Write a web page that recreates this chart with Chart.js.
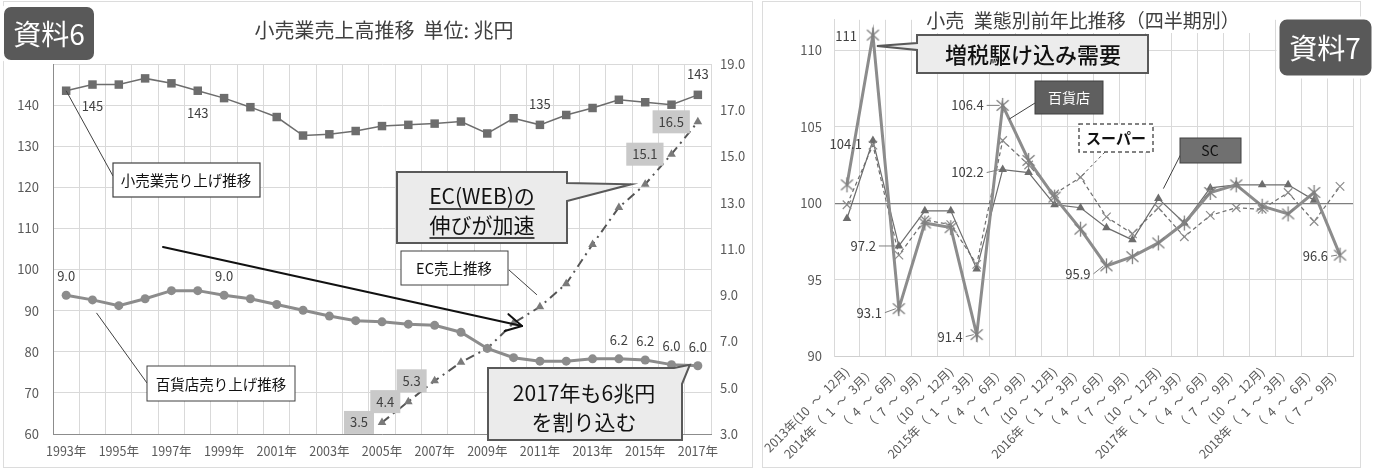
<!DOCTYPE html>
<html>
<head>
<meta charset="utf-8">
<script src="https://cdn.jsdelivr.net/npm/chart.js@4.4.1/dist/chart.umd.min.js"></script>
<style>
html, body { margin: 0; padding: 0; background: #fff; }
#wrap { position: relative; width: 1376px; height: 470px; overflow: hidden; }
#c1 { position: absolute; left: 0; top: 0; }
#c2 { position: absolute; left: 757px; top: 0; }
</style>
</head>
<body>
<div id="wrap">
  <canvas id="c1" width="757" height="470"></canvas>
  <canvas id="c2" width="619" height="470"></canvas>
</div>
<script>
// ---- 資料6 data (兆円) ----
const years = ['1993年','1994年','1995年','1996年','1997年','1998年','1999年','2000年','2001年','2002年',
  '2003年','2004年','2005年','2006年','2007年','2008年','2009年','2010年','2011年','2012年',
  '2013年','2014年','2015年','2016年','2017年'];
const retailSales = [143.5, 145.0, 145.0, 146.5, 145.3, 143.5, 141.7, 139.5, 137.1, 132.6,
  132.9, 133.7, 134.9, 135.2, 135.5, 136.0, 133.1, 136.8, 135.2, 137.6,
  139.3, 141.3, 140.7, 140.1, 142.5];
const deptSales = [9.0, 8.8, 8.55, 8.85, 9.2, 9.2, 9.0, 8.85, 8.6, 8.35,
  8.1, 7.9, 7.85, 7.75, 7.7, 7.4, 6.7, 6.3, 6.15, 6.15,
  6.25, 6.25, 6.2, 6.0, 5.95];
const ecSales = [null, null, null, null, null, null, null, null, null, null,
  null, null, 3.5, 4.4, 5.3, 6.1, 6.7, 7.8, 8.5, 9.5,
  11.2, 12.8, 13.8, 15.1, 16.5];
const retailLabelIdx = [1, 5, 18, 24];
const retailLabelText = ['145', '143', '135', '143'];
const deptLabelIdx = [0, 6, 21, 22, 23, 24];
const deptLabelText = ['9.0', '9.0', '6.2', '6.2', '6.0', '6.0'];
const ecLabelIdx = [12, 13, 14, 23, 24];
const ecLabelText = ['3.5', '4.4', '5.3', '15.1', '16.5'];

// ---- 資料7 data (前年比 %) ----
const quarters = ['2013年(10\u2002～\u200212月)','2014年（\u20021\u2002～\u20023月）','（\u20024\u2002～\u20026月）','（\u20027\u2002～\u20029月）','(10\u2002～\u200212月)',
  '2015年（\u20021\u2002～\u20023月）','（\u20024\u2002～\u20026月）','（\u20027\u2002～\u20029月）','(10\u2002～\u200212月)',
  '2016年（\u20021\u2002～\u20023月）','（\u20024\u2002～\u20026月）','（\u20027\u2002～\u20029月）','(10\u2002～\u200212月)',
  '2017年（\u20021\u2002～\u20023月）','（\u20024\u2002～\u20026月）','（\u20027\u2002～\u20029月）','(10\u2002～\u200212月)',
  '2018年（\u20021\u2002～\u20023月）','（\u20024\u2002～\u20026月）','（\u20027\u2002～\u20029月）'];
const deptYoY = [101.2, 111.0, 93.1, 98.7, 98.4, 91.4, 106.4, 102.8, 100.4, 98.3,
  95.9, 96.5, 97.4, 98.7, 100.7, 101.2, 99.8, 99.3, 100.7, 96.6];
const superYoY = [99.9, 103.8, 96.6, 98.9, 98.6, 96.0, 104.1, 102.5, 100.6, 101.7,
  99.1, 98.0, 99.7, 97.8, 99.2, 99.7, 99.6, 100.7, 98.8, 101.1];
const scYoY = [99.0, 104.1, 97.2, 99.5, 99.5, 95.7, 102.2, 102.0, 99.9, 99.7,
  98.4, 97.6, 100.3, 98.7, 101.0, 101.2, 101.2, 101.2, 100.2, null];
const deptYoYLabelIdx = [1, 2, 5, 6, 10, 19];
const deptYoYLabelText = ['111', '93.1', '91.4', '106.4', '95.9', '96.6'];
const scLabelIdx = [1, 2, 6];
const scLabelText = ['104.1', '97.2', '102.2'];

const FONT = '"Noto Sans CJK JP", "Noto Sans", sans-serif';
Chart.defaults.font.family = FONT;
Chart.defaults.color = '#595959';

// helpers
function font(size, weight) { return (weight || '') + ' ' + size + 'px ' + FONT; }
function text(ctx, s, x, y, size, color, align, weight) {
  ctx.font = font(size, weight);
  ctx.fillStyle = color;
  ctx.textAlign = align || 'center';
  ctx.textBaseline = 'middle';
  ctx.fillText(s, x, y);
}
function rbox(ctx, x, y, w, h, r, fill, stroke, lw) {
  ctx.beginPath();
  ctx.roundRect(x, y, w, h, r);
  if (fill) { ctx.fillStyle = fill; ctx.fill(); }
  if (stroke) { ctx.strokeStyle = stroke; ctx.lineWidth = lw || 1; ctx.stroke(); }
}
function line(ctx, x1, y1, x2, y2, color, lw, dash) {
  ctx.beginPath();
  ctx.setLineDash(dash || []);
  ctx.moveTo(x1, y1); ctx.lineTo(x2, y2);
  ctx.strokeStyle = color; ctx.lineWidth = lw || 1;
  ctx.stroke();
  ctx.setLineDash([]);
}
function pt(chart, ds, i) { return chart.getDatasetMeta(ds).data[i]; }

// callout with a tail on the right side
function calloutRight(ctx, x, y, w, h, t1, t2, tip) {
  ctx.beginPath();
  ctx.moveTo(x, y); ctx.lineTo(x + w, y); ctx.lineTo(x + w, t1);
  ctx.lineTo(tip.x, tip.y); ctx.lineTo(x + w, t2);
  ctx.lineTo(x + w, y + h); ctx.lineTo(x, y + h); ctx.closePath();
  ctx.fillStyle = '#ebebeb'; ctx.fill();
  ctx.strokeStyle = '#595959'; ctx.lineWidth = 2; ctx.stroke();
}

const leftOverlay = {
  id: 'leftOverlay',
  afterDraw(chart) {
    const ctx = chart.ctx;
    ctx.save();
    ctx.strokeStyle = '#dcdcdc'; ctx.lineWidth = 1;
    ctx.strokeRect(3.5, 1.5, 749, 466);

    text(ctx, '小売業売上高推移  単位: 兆円', 384, 30, 20, '#404040');
    rbox(ctx, 2, 5, 94, 57, 9, '#595959', '#ffffff', 4);
    text(ctx, '資料6', 49, 34, 28, '#ffffff');

    // value labels
    retailLabelIdx.forEach((i, k) => {
      const p = pt(chart, 0, i);
      text(ctx, retailLabelText[k], p.x, p.y + (i < 10 ? 22 : -21), 13, '#404040');
    });
    deptLabelIdx.forEach((i, k) => {
      const p = pt(chart, 1, i);
      text(ctx, deptLabelText[k], p.x, p.y - 19, 13, '#404040');
    });
    ecLabelIdx.forEach((i, k) => {
      const p = pt(chart, 2, i);
      ctx.font = font(13);
      const w = ctx.measureText(ecLabelText[k]).width + 12;
      ctx.fillStyle = '#c9c9c9';
      ctx.fillRect(p.x - 8 - w, p.y - 11.5, w, 23);
      text(ctx, ecLabelText[k], p.x - 8 - w / 2, p.y, 13, '#404040');
    });

    // series name boxes
    const r0 = pt(chart, 0, 0);
    line(ctx, r0.x, r0.y, 113, 176, '#404040', 1);
    ctx.fillStyle = '#fff'; ctx.fillRect(113, 163, 147, 34);
    ctx.strokeStyle = '#404040'; ctx.lineWidth = 1.2; ctx.strokeRect(113, 163, 147, 34);
    text(ctx, '小売業売り上げ推移', 186, 180, 14.5, '#111');

    const d1 = pt(chart, 1, 1);
    line(ctx, d1.x + 4, d1.y + 13, 147, 383, '#404040', 1);
    ctx.fillStyle = '#fff'; ctx.fillRect(147, 366, 148, 35);
    ctx.strokeRect(147, 366, 148, 35);
    text(ctx, '百貨店売り上げ推移', 221, 384, 14.5, '#111');

    const e18 = pt(chart, 2, 18);
    line(ctx, 509, 270, e18.x - 3, e18.y - 12, '#404040', 1);
    ctx.fillStyle = '#fff'; ctx.fillRect(401, 251, 107, 34);
    ctx.strokeRect(401, 251, 107, 34);
    text(ctx, 'EC売上推移', 454, 268, 14.5, '#111');

    // trend arrow
    ctx.lineCap = 'round';
    line(ctx, 163, 247, 522, 326, '#111', 2);
    const ang = Math.atan2(326 - 247, 522 - 163);
    [0.5, -0.5].forEach(a => {
      line(ctx, 522, 326, 522 - 18 * Math.cos(ang + a), 326 - 18 * Math.sin(ang + a), '#111', 2);
    });
    ctx.lineCap = 'butt';

    // EC callout
    const e22 = pt(chart, 2, 22);
    calloutRight(ctx, 397, 172, 170, 71, 183, 201, { x: e22.x - 14, y: e22.y });
    ['EC(WEB)の', '伸びが加速'].forEach((s, k) => {
      const y = 196 + k * 29;
      text(ctx, s, 482, y, 21, '#111');
      const w = ctx.measureText(s).width;
      line(ctx, 482 - w / 2, y + 13, 482 + w / 2, y + 13, '#111', 1.5);
    });

    // 2017 callout
    const d24 = pt(chart, 1, 24);
    ctx.beginPath();
    ctx.moveTo(488, 368); ctx.lineTo(674, 368);
    ctx.lineTo(d24.x - 8, d24.y - 1); ctx.lineTo(682, 384);
    ctx.lineTo(682, 440); ctx.lineTo(488, 440); ctx.closePath();
    ctx.fillStyle = '#ebebeb'; ctx.fill();
    ctx.strokeStyle = '#595959'; ctx.lineWidth = 2; ctx.stroke();
    text(ctx, '2017年も6兆円', 584, 393, 21, '#111');
    text(ctx, 'を割り込む', 584, 422, 21, '#111');
    ctx.restore();
  }
};

new Chart(document.getElementById('c1'), {
  type: 'line',
  data: {
    labels: years,
    datasets: [
      { label: '小売業', data: retailSales, yAxisID: 'y', borderColor: '#6d6d6d', borderWidth: 1.5,
        pointStyle: 'rect', pointRadius: 6, pointBackgroundColor: '#6d6d6d', pointBorderWidth: 0 },
      { label: '百貨店', data: deptSales, yAxisID: 'y1', borderColor: '#8c8c8c', borderWidth: 3,
        pointStyle: 'circle', pointRadius: 4.5, pointBackgroundColor: '#8c8c8c', pointBorderWidth: 0 },
      { label: 'EC', data: ecSales, yAxisID: 'y1', borderColor: '#555555', borderWidth: 2,
        borderDash: [9, 5, 2, 5], pointStyle: 'triangle', pointRadius: 5,
        pointBackgroundColor: '#7a7a7a', pointBorderColor: '#7a7a7a', pointBorderWidth: 0 }
    ]
  },
  options: {
    responsive: false,
    animation: false,
    layout: { padding: { top: 64, left: 0, right: 0, bottom: 0 } },
    plugins: { legend: { display: false }, tooltip: { enabled: false } },
    scales: {
      x: {
        offset: true,
        grid: { offset: true, color: '#d9d9d9', drawTicks: false },
        border: { color: '#8c8c8c' },
        ticks: { autoSkip: false, maxRotation: 0, padding: 10, font: { size: 12.5 },
          callback: (v, i) => (i % 2 === 0 ? years[i] : '') },
        afterFit: s => { s.height = 36; }
      },
      y: {
        position: 'left', min: 60, max: 150,
        ticks: { stepSize: 10, padding: 14, font: { size: 13 }, callback: v => (v === 150 ? '' : v) },
        grid: { color: '#d9d9d9', drawTicks: false },
        border: { color: '#8c8c8c' },
        afterFit: s => { s.width = 53; }
      },
      y1: {
        position: 'right', min: 3, max: 19,
        ticks: { stepSize: 2, padding: 9, font: { size: 13 }, callback: v => v.toFixed(1) },
        grid: { drawOnChartArea: false, drawTicks: false },
        border: { display: false },
        afterFit: s => { s.width = 46; }
      }
    }
  },
  plugins: [leftOverlay]
});

// asterisk marker for 百貨店
function makeStar(size, color) {
  const c = document.createElement('canvas');
  c.width = c.height = size;
  const g = c.getContext('2d');
  const m = size / 2, r = size / 2 - 1;
  g.strokeStyle = color; g.lineWidth = 1.3;
  g.beginPath();
  g.moveTo(m, m - r); g.lineTo(m, m + r);
  g.moveTo(m - r * 0.8, m - r * 0.7); g.lineTo(m + r * 0.8, m + r * 0.7);
  g.moveTo(m + r * 0.8, m - r * 0.7); g.lineTo(m - r * 0.8, m + r * 0.7);
  g.stroke();
  return c;
}
const starImg = makeStar(17, '#7f7f7f');

const rightOverlay = {
  id: 'rightOverlay',
  afterDraw(chart) {
    const ctx = chart.ctx;
    ctx.save();
    ctx.strokeStyle = '#dcdcdc'; ctx.lineWidth = 1;
    ctx.strokeRect(5.5, 1.5, 598, 466);

    ctx.fillStyle = '#fff'; ctx.fillRect(158, 9, 336, 24);
    text(ctx, '小売\u2002業態別前年比推移（四半期別）', 326, 21, 19, '#404040');
    rbox(ctx, 521, 18, 95, 59, 9, '#595959', '#ffffff', 3);
    text(ctx, '資料7', 568, 48, 28, '#ffffff');

    // 増税駆け込み需要
    const p1 = pt(chart, 0, 1);
    ctx.beginPath();
    ctx.moveTo(160, 35); ctx.lineTo(391, 35); ctx.lineTo(391, 73); ctx.lineTo(160, 73);
    ctx.lineTo(160, 50); ctx.lineTo(p1.x + 4, p1.y + 11); ctx.lineTo(160, 43); ctx.closePath();
    ctx.fillStyle = '#ececec'; ctx.fill();
    ctx.strokeStyle = '#595959'; ctx.lineWidth = 2; ctx.stroke();
    text(ctx, '増税駆け込み需要', 276, 55, 22, '#111', 'center', '500');

    // 百貨店
    const a6 = pt(chart, 0, 6), a7 = pt(chart, 0, 7);
    line(ctx, 278, 103, a6.x + (a7.x - a6.x) * 0.25, a6.y + (a7.y - a6.y) * 0.25, '#404040', 1);
    ctx.fillStyle = '#5f5f5f'; ctx.fillRect(278, 81, 68, 33);
    ctx.strokeStyle = '#404040'; ctx.lineWidth = 1; ctx.strokeRect(278, 81, 68, 33);
    text(ctx, '百貨店', 312, 98, 14, '#ffffff');

    // スーパー
    const s9 = pt(chart, 1, 9);
    line(ctx, 348, 152, s9.x, s9.y, '#595959', 1, [3, 3]);
    ctx.fillStyle = '#fff'; ctx.fillRect(322, 124, 74, 28);
    ctx.setLineDash([4, 3]); ctx.strokeStyle = '#595959'; ctx.lineWidth = 1.5;
    ctx.strokeRect(322, 124, 74, 28); ctx.setLineDash([]);
    text(ctx, 'スーパー', 359, 138, 15, '#111', 'center', 'bold');

    // SC
    const c12 = pt(chart, 2, 12);
    line(ctx, 426, 150, c12.x + 5, c12.y - 10, '#404040', 1);
    ctx.fillStyle = '#707070'; ctx.fillRect(423, 138, 61, 25);
    ctx.strokeStyle = '#404040'; ctx.lineWidth = 1; ctx.strokeRect(423, 138, 61, 25);
    text(ctx, 'SC', 453, 151, 14, '#111');

    // value labels with short leader lines
    const offs = {
      0: { 1: [-15, 1, 0], 2: [-16, 4, 1], 5: [-13, 2, 1], 6: [-18, 0, 1], 10: [-15, 8, 1], 19: [-11, 1, 1] },
      2: { 1: [-10, 4, 0], 2: [-22, 0, 1], 6: [-18, 3, 1] }
    };
    const draw = (ds, idxs, txts) => idxs.forEach((i, k) => {
      const p = pt(chart, ds, i);
      const o = offs[ds][i];
      const tx = p.x + o[0], ty = p.y + o[1];
      if (o[2]) line(ctx, tx + 2, ty, p.x - 3, p.y, '#7f7f7f', 1);
      text(ctx, txts[k], tx - 1, ty, 13, '#404040', 'right');
    });
    draw(0, deptYoYLabelIdx, deptYoYLabelText);
    draw(2, scLabelIdx, scLabelText);
    ctx.restore();
  }
};

new Chart(document.getElementById('c2'), {
  type: 'line',
  data: {
    labels: quarters,
    datasets: [
      { label: '百貨店', data: deptYoY, borderColor: '#8c8c8c', borderWidth: 3,
        pointStyle: starImg, pointRadius: 8 },
      { label: 'スーパー', data: superYoY, borderColor: '#6d6d6d', borderWidth: 1.2, borderDash: [4, 3],
        pointStyle: 'crossRot', pointRadius: 6, pointBorderColor: '#8c8c8c', pointBorderWidth: 1.2 },
      { label: 'SC', data: scYoY, borderColor: '#6d6d6d', borderWidth: 1.2,
        pointStyle: 'triangle', pointRadius: 5, pointBackgroundColor: '#6d6d6d', pointBorderColor: '#6d6d6d', pointBorderWidth: 0 }
    ]
  },
  options: {
    responsive: false,
    animation: false,
    layout: { padding: { top: 10, left: 0, right: 23, bottom: 0 } },
    plugins: { legend: { display: false }, tooltip: { enabled: false } },
    scales: {
      x: {
        offset: true,
        grid: { offset: true, color: '#d9d9d9', drawTicks: false },
        border: { color: '#cfcfcf' },
        ticks: { autoSkip: false, minRotation: 45, maxRotation: 45, padding: 8, font: { size: 12.5 } },
        afterFit: s => { s.height = 114; s.paddingLeft = 0; s.paddingRight = 0; }
      },
      y: {
        min: 90, max: 112,
        ticks: { stepSize: 5, padding: 12, font: { size: 13 }, callback: v => (v % 5 === 0 ? v : '') },
        grid: {
          drawTicks: false,
          color: c => (c.tick && c.tick.value === 100 ? '#7f7f7f' : (c.tick && c.tick.value === 112 ? 'rgba(0,0,0,0)' : '#d9d9d9')),
          lineWidth: c => (c.tick && c.tick.value === 100 ? 1.3 : 1)
        },
        border: { color: '#d9d9d9' },
        afterFit: s => { s.width = 77; }
      }
    }
  },
  plugins: [rightOverlay]
});
</script>
</body>
</html>
